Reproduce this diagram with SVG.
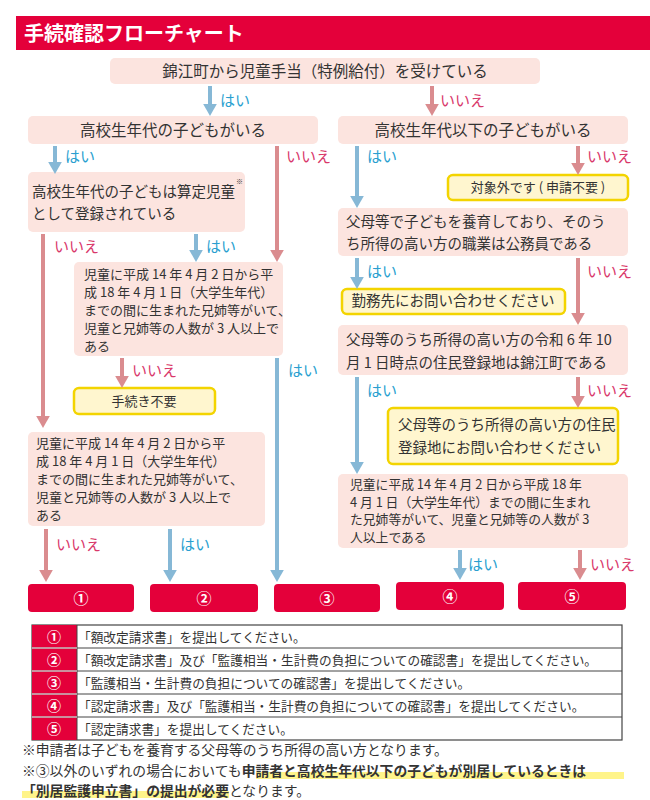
<svg xmlns="http://www.w3.org/2000/svg" width="650" height="800" viewBox="0 0 650 800">
<style>
text{font-family:"Noto Sans CJK JP",sans-serif;fill:#333}
.b{fill:#fce4df}
.y{fill:#fff6cf;stroke:#f3d400;stroke-width:2.5}
.t{font-size:13px}
.w{font-size:14.5px}
.tc{font-size:15.5px;text-anchor:middle}
.yes{fill:#2a9fd0;font-size:15px}
.no{fill:#d9386a;font-size:15px}
.ay{stroke:#86b8d6;stroke-width:4}
.an{stroke:#da8c8f;stroke-width:4}
.r{fill:#e4003a}
.n{fill:#fff;font-size:15px;font-weight:bold;text-anchor:middle}
.tb{font-size:12.7px}
.nt{font-size:13.8px}
</style>
<defs>
<marker id="my" markerWidth="4" markerHeight="4" refX="2" refY="2" orient="auto" markerUnits="strokeWidth"><path d="M0,0.3L3,2L0,3.7z" fill="#86b8d6" transform="translate(1,0)"/></marker>
<marker id="mn" markerWidth="4" markerHeight="4" refX="2" refY="2" orient="auto" markerUnits="strokeWidth"><path d="M0,0.3L3,2L0,3.7z" fill="#da8c8f" transform="translate(1,0)"/></marker>
</defs>
<rect x="16" y="16" width="634" height="34" class="r"/>
<text x="24" y="41" style="fill:#fff;font-size:20px;font-weight:bold">手続確認フローチャート</text>

<g id="n1"><rect x="110" y="58" width="430" height="26" rx="5" class="b"/><text x="325" y="77" class="tc">錦江町から児童手当（特例給付）を受けている</text></g>
<g id="n2"><rect x="28" y="116" width="290" height="28" rx="5" class="b"/><text x="173" y="136" class="tc">高校生年代の子どもがいる</text></g>
<g id="n3"><rect x="338" y="116" width="290" height="28" rx="5" class="b"/><text x="483" y="136" class="tc">高校生年代以下の子どもがいる</text></g>
<g id="n4"><rect x="28" y="172" width="217" height="60" rx="5" class="b"/><text x="32" y="197" class="w">高校生年代の子どもは算定児童</text><text x="32" y="219" class="w">として登録されている</text><text x="236" y="184" style="font-size:7px">※</text></g>
<g id="n5"><rect x="74" y="262" width="209" height="94" rx="5" class="b"/><text class="t"><tspan x="84" y="279">児童に平成 14 年 4 月 2 日から平</tspan><tspan x="84" y="297">成 18 年 4 月 1 日（大学生年代）</tspan><tspan x="84" y="315">までの間に生まれた兄姉等がいて、</tspan><tspan x="84" y="333">児童と兄姉等の人数が 3 人以上で</tspan><tspan x="84" y="351">ある</tspan></text></g>
<g id="n6"><rect x="74" y="388" width="141" height="26" rx="5" class="y"/><text x="144" y="406" class="t" style="text-anchor:middle">手続き不要</text></g>
<g id="n7"><rect x="28" y="432" width="237" height="94" rx="5" class="b"/><text class="t"><tspan x="36" y="448">児童に平成 14 年 4 月 2 日から平</tspan><tspan x="36" y="466">成 18 年 4 月 1 日（大学生年代）</tspan><tspan x="36" y="484">までの間に生まれた兄姉等がいて、</tspan><tspan x="36" y="502">児童と兄姉等の人数が 3 人以上で</tspan><tspan x="36" y="520">ある</tspan></text></g>
<g id="n8"><rect x="448" y="175" width="180" height="25" rx="5" class="y"/><text x="538" y="192" class="t" style="text-anchor:middle">対象外です ( 申請不要 )</text></g>
<g id="n9"><rect x="338" y="208" width="290" height="48" rx="5" class="b"/><text x="346" y="227" class="w">父母等で子どもを養育しており、そのう</text><text x="346" y="249" class="w">ち所得の高い方の職業は公務員である</text></g>
<g id="n10"><rect x="342" y="289" width="223" height="25" rx="5" class="y"/><text x="453" y="306" class="w" style="text-anchor:middle">勤務先にお問い合わせください</text></g>
<g id="n11"><rect x="338" y="325" width="290" height="50" rx="5" class="b"/><text x="346" y="345" class="w">父母等のうち所得の高い方の令和 6 年 10</text><text x="346" y="368" class="w">月 1 日時点の住民登録地は錦江町である</text></g>
<g id="n12"><rect x="388" y="408" width="230" height="56" rx="5" class="y"/><text x="398" y="430" class="w">父母等のうち所得の高い方の住民</text><text x="398" y="453" class="w">登録地にお問い合わせください</text></g>
<g id="n13"><rect x="338" y="474" width="290" height="74" rx="5" class="b"/><text style="font-size:12.8px"><tspan x="350" y="489">児童に平成 14 年 4 月 2 日から平成 18 年</tspan><tspan x="350" y="506.5">4 月 1 日（大学生年代）までの間に生まれ</tspan><tspan x="350" y="524">た兄姉等がいて、児童と兄姉等の人数が 3</tspan><tspan x="350" y="541.5">人以上である</tspan></text></g>
<g id="r1"><rect x="28" y="584" width="106" height="28" rx="4" class="r"/><text x="81" y="604" class="n">①</text></g>
<g id="r2"><rect x="150" y="584" width="108" height="28" rx="4" class="r"/><text x="204" y="604" class="n">②</text></g>
<g id="r3"><rect x="274" y="584" width="106" height="28" rx="4" class="r"/><text x="327" y="604" class="n">③</text></g>
<g id="r4"><rect x="396" y="582" width="108" height="28" rx="4" class="r"/><text x="450" y="602" class="n">④</text></g>
<g id="r5"><rect x="518" y="582" width="108" height="28" rx="4" class="r"/><text x="572" y="602" class="n">⑤</text></g>

<g id="connectors" fill="none">
<line x1="210" y1="86" x2="210" y2="108" class="ay" marker-end="url(#my)"/><text x="220" y="106" class="yes">はい</text>
<line x1="432" y1="86" x2="432" y2="108" class="an" marker-end="url(#mn)"/><text x="440" y="106" class="no">いいえ</text>
<line x1="55" y1="146" x2="55" y2="166" class="ay" marker-end="url(#my)"/><text x="65" y="162" class="yes">はい</text>
<line x1="277" y1="146" x2="277" y2="254" class="an" marker-end="url(#mn)"/><text x="286" y="162" class="no">いいえ</text>
<line x1="357" y1="146" x2="357" y2="200" class="ay" marker-end="url(#my)"/><text x="367" y="162" class="yes">はい</text>
<line x1="578" y1="146" x2="578" y2="167" class="an" marker-end="url(#mn)"/><text x="587" y="162" class="no">いいえ</text>
<line x1="43" y1="234" x2="43" y2="420" class="an" marker-end="url(#mn)"/><text x="54" y="252" class="no">いいえ</text>
<line x1="196" y1="234" x2="196" y2="254" class="ay" marker-end="url(#my)"/><text x="206" y="252" class="yes">はい</text>
<line x1="122" y1="358" x2="122" y2="380" class="an" marker-end="url(#mn)"/><text x="132" y="376" class="no">いいえ</text>
<line x1="277" y1="358" x2="277" y2="574" class="ay" marker-end="url(#my)"/><text x="288" y="376" class="yes">はい</text>
<line x1="357" y1="258" x2="357" y2="281" class="ay" marker-end="url(#my)"/><text x="367" y="277" class="yes">はい</text>
<line x1="578" y1="258" x2="578" y2="317" class="an" marker-end="url(#mn)"/><text x="587" y="277" class="no">いいえ</text>
<line x1="357" y1="377" x2="357" y2="466" class="ay" marker-end="url(#my)"/><text x="367" y="396" class="yes">はい</text>
<line x1="578" y1="377" x2="578" y2="400" class="an" marker-end="url(#mn)"/><text x="587" y="396" class="no">いいえ</text>
<line x1="46" y1="529" x2="46" y2="574" class="an" marker-end="url(#mn)"/><text x="56" y="550" class="no">いいえ</text>
<line x1="170" y1="529" x2="170" y2="574" class="ay" marker-end="url(#my)"/><text x="180" y="550" class="yes">はい</text>
<line x1="460" y1="550" x2="460" y2="572" class="ay" marker-end="url(#my)"/><text x="468" y="570" class="yes">はい</text>
<line x1="580" y1="550" x2="580" y2="572" class="an" marker-end="url(#mn)"/><text x="590" y="570" class="no">いいえ</text>
</g>

<g id="table">
<rect x="32" y="625" width="590" height="115" fill="#fff" stroke="#444" stroke-width="1.2"/>
<rect x="32" y="625" width="45" height="115" class="r"/>
<g stroke="#444" stroke-width="1"><line x1="32" y1="648" x2="622" y2="648"/><line x1="32" y1="671" x2="622" y2="671"/><line x1="32" y1="694" x2="622" y2="694"/><line x1="32" y1="717" x2="622" y2="717"/><line x1="77" y1="625" x2="77" y2="740"/></g>
<g stroke="#fff" stroke-width="1"><line x1="32" y1="648" x2="77" y2="648"/><line x1="32" y1="671" x2="77" y2="671"/><line x1="32" y1="694" x2="77" y2="694"/><line x1="32" y1="717" x2="77" y2="717"/></g>
<text x="54" y="642" class="n" style="font-size:14px">①</text><text x="54" y="665" class="n" style="font-size:14px">②</text><text x="54" y="688" class="n" style="font-size:14px">③</text><text x="54" y="711" class="n" style="font-size:14px">④</text><text x="54" y="734" class="n" style="font-size:14px">⑤</text>
<text x="78" y="642" class="tb">「額改定請求書」を提出してください。</text>
<text x="78" y="665" class="tb">「額改定請求書」及び「監護相当・生計費の負担についての確認書」を提出してください。</text>
<text x="78" y="688" class="tb">「監護相当・生計費の負担についての確認書」を提出してください。</text>
<text x="78" y="711" class="tb">「認定請求書」及び「監護相当・生計費の負担についての確認書」を提出してください。</text>
<text x="78" y="734" class="tb">「認定請求書」を提出してください。</text>
</g>
<g id="notes">
<rect x="256" y="772" width="368" height="7" fill="#fff48a"/>
<rect x="22" y="791" width="207" height="7" fill="#fff48a"/>
<text x="22" y="755" class="nt">※申請者は子どもを養育する父母等のうち所得の高い方となります。</text>
<text x="22" y="776" class="nt">※③以外のいずれの場合においても<tspan font-weight="bold">申請者と高校生年代以下の子どもが別居しているときは</tspan></text>
<text x="22" y="796" class="nt"><tspan font-weight="bold">「別居監護申立書」の提出が必要</tspan>となります。</text>
</g>
</svg>
